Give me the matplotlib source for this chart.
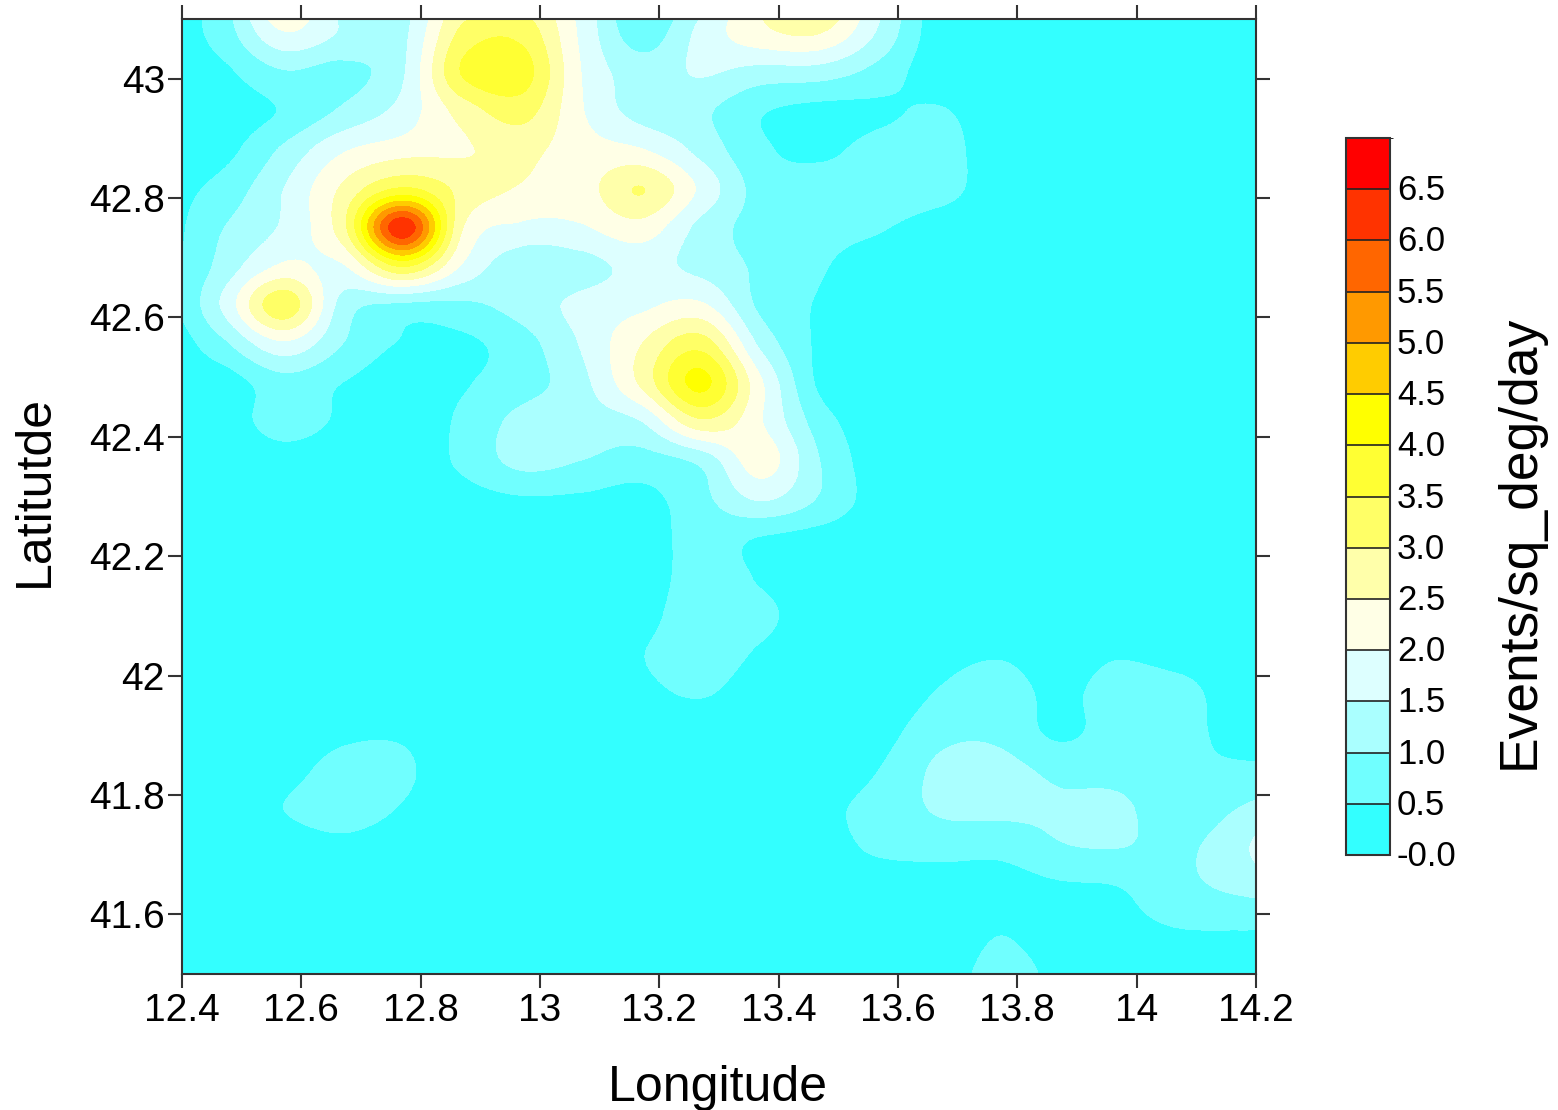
import numpy as np
import matplotlib
matplotlib.use('Agg')
import matplotlib.pyplot as plt
from matplotlib.colors import ListedColormap, BoundaryNorm
from matplotlib.cm import ScalarMappable
from matplotlib.transforms import ScaledTranslation

plt.rcParams['font.family'] = ['Liberation Sans', 'DejaVu Sans']

# grid nodes, values
lons = [12.37, 12.47, 12.57, 12.67, 12.77, 12.87, 12.97, 13.07, 13.17, 13.27,
        13.37, 13.47, 13.57, 13.67, 13.77, 13.87, 13.97, 14.07, 14.17, 14.27]
lats = [43.14, 43.075, 43.01, 42.945, 42.88, 42.815, 42.75, 42.685, 42.62,
        42.555, 42.49, 42.425, 42.36, 42.295, 42.23, 42.165, 42.10, 42.035,
        41.97, 41.905, 41.84, 41.775, 41.71, 41.645, 41.58, 41.515, 41.45]
density = [
    [.20, .85, 2.6, 1.3, 1.3, 2.6, 2.8, 1.8, .50, 1.3, 2.5, 3.1, 1.6, .20, .10, .10, .10, .10, .10, .10],
    [.20, .75, 1.95, 1.45, 1.4, 3.15, 3.35, 1.9, .75, 1.65, 2.35, 2.5, 1.4, .20, .10, .10, .10, .10, .10, .10],
    [.15, .40, .95, .85, 1.45, 3.55, 3.75, 2.0, 1.25, 1.55, 1.3, 1.25, .80, .20, .10, .10, .10, .10, .10, .10],
    [.15, .25, .55, 1.1, 1.7, 2.7, 3.2, 2.05, 1.3, 1.1, .55, .35, .42, .55, .15, .10, .10, .10, .10, .10],
    [.20, .35, 1.1, 1.95, 2.3, 2.45, 2.65, 2.2, 2.05, 1.35, .60, .40, .70, .75, .15, .10, .10, .10, .10, .10],
    [.30, .70, 1.5, 2.6, 3.6, 2.85, 2.45, 2.3, 3.02, 1.9, .80, .75, .90, .75, .15, .10, .10, .10, .10, .10],
    [.30, 1.0, 1.6, 2.85, 6.4, 2.55, 1.9, 1.95, 2.3, 1.35, .80, .65, .55, .20, .10, .10, .10, .10, .10, .10],
    [.30, 1.2, 2.1, 1.95, 3.55, 1.95, 1.15, 1.3, 1.65, 1.35, .90, .55, .25, .10, .10, .10, .10, .10, .10, .10],
    [.30, 1.6, 3.35, 1.3, .90, .90, 1.2, 1.65, 1.9, 2.1, .90, .45, .15, .10, .10, .10, .10, .10, .10, .10],
    [.15, .90, 1.9, 1.0, .45, .40, .80, 1.55, 2.5, 3.3, 1.4, .40, .12, .10, .10, .10, .10, .10, .10, .10],
    [.20, .25, .80, .50, .20, .45, .80, 1.35, 2.6, 4.15, 2.1, .40, .10, .10, .10, .10, .10, .10, .10, .10],
    [.15, .20, .75, .40, .15, .60, 1.15, 1.25, 1.5, 2.9, 2.05, .75, .15, .10, .10, .10, .10, .10, .10, .10],
    [.10, .10, .25, .15, .15, .60, 1.15, 1.0, .80, 1.15, 2.25, 1.0, .20, .10, .10, .10, .10, .10, .10, .10],
    [.10, .10, .10, .10, .15, .30, .45, .42, .35, .85, 1.55, .95, .25, .10, .10, .10, .10, .10, .10, .10],
    [.10, .10, .10, .10, .10, .15, .15, .20, .25, .70, .48, .30, .15, .10, .10, .10, .10, .10, .10, .10],
    [.10, .10, .10, .10, .10, .10, .10, .15, .20, .75, .45, .12, .10, .10, .10, .10, .10, .10, .10, .10],
    [.10, .10, .10, .10, .10, .10, .10, .10, .30, .85, .65, .15, .10, .10, .10, .10, .10, .10, .10, .10],
    [.10, .10, .10, .10, .10, .10, .10, .10, .48, .80, .42, .10, .10, .30, .45, .20, .45, .25, .10, .10],
    [.10, .10, .10, .10, .15, .10, .10, .10, .35, .55, .20, .10, .10, .55, .80, .35, .80, .75, .15, .10],
    [.10, .10, .10, .38, .42, .10, .10, .10, .10, .15, .10, .10, .30, .85, .90, .40, .75, .70, .30, .20],
    [.10, .10, .30, .70, .60, .10, .10, .10, .10, .10, .10, .15, .52, 1.1, 1.15, .90, .85, .60, .60, .65],
    [.10, .10, .50, .80, .45, .10, .10, .10, .10, .10, .10, .35, .70, 1.05, 1.1, 1.05, 1.1, .70, 1.02, 1.4],
    [.10, .10, .15, .30, .10, .10, .10, .10, .10, .10, .10, .25, .60, .70, .65, .95, 1.0, .90, 1.35, 2.2],
    [.10, .10, .10, .10, .10, .10, .10, .10, .10, .10, .10, .10, .12, .15, .25, .42, .50, .85, 1.1, 1.3],
    [.10, .10, .10, .10, .10, .10, .10, .10, .10, .10, .10, .10, .10, .10, .45, .22, .35, .52, .55, .55],
    [.10, .10, .10, .10, .10, .10, .10, .10, .10, .10, .10, .10, .10, .20, .65, .35, .15, .20, .20, .20],
    [.10, .10, .10, .10, .10, .10, .10, .10, .10, .10, .10, .10, .10, .25, .80, .40, .10, .10, .10, .10],
]

levels = [0, 0.5, 1, 1.5, 2, 2.5, 3, 3.5, 4, 4.5, 5, 5.5, 6, 6.5, 7]
level_colors = ['#33FFFF', '#70FFFF', '#AAFFFF', '#DDFFFF', '#FFFFE6', '#FFFFAA', '#FFFF66',
                '#FFFF33', '#FFFF00', '#FFCC00', '#FF9900', '#FF6600', '#FF3300', '#FF0000']
cbar_labels = ['-0.0', '0.5', '1.0', '1.5', '2.0', '2.5', '3.0', '3.5', '4.0', '4.5', '5.0', '5.5', '6.0', '6.5']

x_ticks = [12.4, 12.6, 12.8, 13, 13.2, 13.4, 13.6, 13.8, 14, 14.2]
x_labels = ['12.4', '12.6', '12.8', '13', '13.2', '13.4', '13.6', '13.8', '14', '14.2']
y_ticks = [41.6, 41.8, 42, 42.2, 42.4, 42.6, 42.8, 43]
y_labels = ['41.6', '41.8', '42', '42.2', '42.4', '42.6', '42.8', '43']

W, H = 1558, 1110
edge = '#333333'

cmap = ListedColormap(level_colors)
cmap.set_under(level_colors[0])
cmap.set_over(level_colors[-1])
norm = BoundaryNorm(levels, cmap.N)

fig = plt.figure(figsize=(W / 100, H / 100), dpi=100)
ax = fig.add_axes([182 / W, (H - 974) / H, 1074 / W, 955 / H])

dx = (lons[1] - lons[0]) / 2
dy = (lats[0] - lats[1]) / 2
# catrom goes through the nodes, the bands come from the norm
ax.imshow(np.array(density), extent=(lons[0] - dx, lons[-1] + dx, lats[-1] - dy, lats[0] + dy),
          origin='upper', aspect='auto', cmap=cmap, norm=norm,
          interpolation='catrom', interpolation_stage='data')
ax.set_xlim(12.4, 14.2)
ax.set_ylim(41.5, 43.1)

ax.set_xticks(x_ticks)
ax.set_xticklabels(x_labels)
ax.set_yticks(y_ticks)
ax.set_yticklabels(y_labels)
ax.tick_params(axis='both', which='major', direction='out', length=9.8, width=1.5, color=edge,
               top=True, right=True, labelsize=28, labelcolor='black')
ax.tick_params(axis='x', pad=4)
ax.tick_params(axis='y', pad=2.5)
for s in ax.spines.values():
    s.set_color(edge)
    s.set_linewidth(1.5)

fig.text(718 / W, 1 - 1088 / H, 'Longitude', fontsize=36, ha='center', va='center')
fig.text(35 / W, 1 - 491 / H, 'Latitutde', fontsize=36, rotation=90, ha='center', va='center')
fig.text(1520 / W, 1 - 541.5 / H, 'Events/sq_deg/day', fontsize=38.4, rotation=90, ha='center', va='center')

cax = fig.add_axes([1346 / W, (H - 855) / H, 44 / W, 717 / H])
cb = fig.colorbar(ScalarMappable(norm=norm, cmap=cmap), cax=cax, spacing='proportional',
                  drawedges=True, ticks=levels[:-1])
cb.set_ticklabels(cbar_labels)
cb.ax.tick_params(length=0, labelsize=25, pad=5, labelcolor='black')
cb.outline.set_edgecolor(edge)
cb.outline.set_linewidth(1.5)
cb.dividers.set_color('#222222')
cb.dividers.set_linewidth(1.2)
# labels sit a little above the band edges
for lab in cb.ax.get_yticklabels():
    lab.set_transform(lab.get_transform() + ScaledTranslation(0, 2 / 100, fig.dpi_scale_trans))

fig.savefig('out.png', dpi=100)
